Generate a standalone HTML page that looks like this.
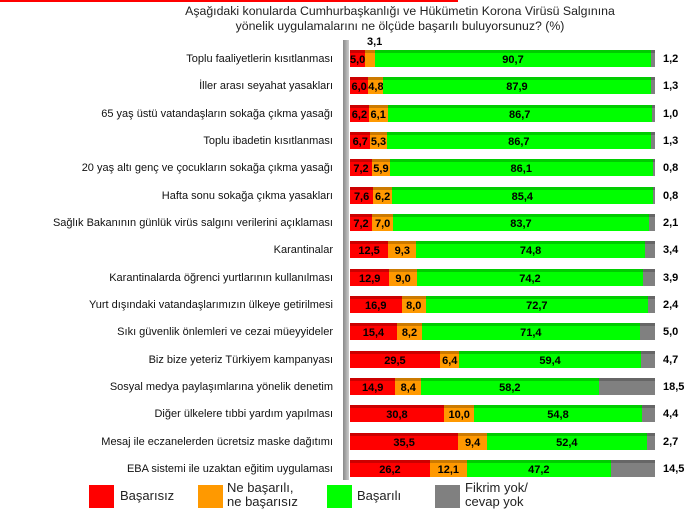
<!DOCTYPE html>
<html><head><meta charset="utf-8"><style>
body{margin:0;width:697px;height:514px;background:#fff;font-family:"Liberation Sans",sans-serif;position:relative;overflow:hidden}
.t{position:absolute;left:100px;width:600px;text-align:center;font-size:12.3px;color:#222;line-height:15px;white-space:nowrap}
.lab{position:absolute;right:364px;font-size:11px;color:#111;white-space:nowrap}
.bar{position:absolute;left:350px;height:14px}
.seg{position:absolute;top:0;height:14px;font-size:11px;font-weight:bold;text-align:center;line-height:14px;color:#000;overflow:visible;white-space:nowrap}
.seg::before{content:"";position:absolute;left:0;right:0;top:-3px;height:3px;filter:brightness(0.8);background:inherit}
.r{background:#f00}.o{background:#f90}.g{background:#0f0}.y{background:#808080}
.v{position:absolute;font-size:11px;font-weight:bold;color:#000}
.axis{position:absolute;left:343px;top:40px;width:6px;height:440px;background:linear-gradient(90deg,#888,#ccc)}
.lg{position:absolute;top:485px;width:25px;height:23px}
.lt{position:absolute;font-size:13px;color:#222;line-height:14px;white-space:nowrap}
</style></head><body>
<div style="position:absolute;left:0;top:0;width:458px;height:2px;background:#f00"></div>
<div class="t" style="top:4px">Aşağıdaki konularda Cumhurbaşkanlığı ve Hükümetin Korona Virüsü Salgınına</div>
<div class="t" style="top:19px">yönelik uygulamalarını ne ölçüde başarılı buluyorsunuz? (%)</div>
<div class="axis"></div>
<div class="v" style="left:367px;top:36px">3,1</div>
<div id="c"></div>
<div class="lg r" style="left:89px"></div><div class="lt" style="left:120px;top:489px">Başarısız</div>
<div class="lg o" style="left:198px"></div><div class="lt" style="left:227px;top:481px">Ne başarılı,<br>ne başarısız</div>
<div class="lg g" style="left:327px"></div><div class="lt" style="left:357px;top:489px">Başarılı</div>
<div class="lg y" style="left:435px"></div><div class="lt" style="left:465px;top:481px">Fikrim yok/<br>cevap yok</div>
<script>
var d=[["Toplu faaliyetlerin kısıtlanması",5.0,3.1,90.7,1.2],
["İller arası seyahat yasakları",6.0,4.8,87.9,1.3],
["65 yaş üstü vatandaşların sokağa çıkma yasağı",6.2,6.1,86.7,1.0],
["Toplu ibadetin kısıtlanması",6.7,5.3,86.7,1.3],
["20 yaş altı genç ve çocukların sokağa çıkma yasağı",7.2,5.9,86.1,0.8],
["Hafta sonu sokağa çıkma yasakları",7.6,6.2,85.4,0.8],
["Sağlık Bakanının günlük virüs salgını verilerini açıklaması",7.2,7.0,83.7,2.1],
["Karantinalar",12.5,9.3,74.8,3.4],
["Karantinalarda öğrenci yurtlarının kullanılması",12.9,9.0,74.2,3.9],
["Yurt dışındaki vatandaşlarımızın ülkeye getirilmesi",16.9,8.0,72.7,2.4],
["Sıkı güvenlik önlemleri ve cezai müeyyideler",15.4,8.2,71.4,5.0],
["Biz bize yeteriz Türkiyem kampanyası",29.5,6.4,59.4,4.7],
["Sosyal medya paylaşımlarına yönelik denetim",14.9,8.4,58.2,18.5],
["Diğer ülkelere tıbbi yardım yapılması",30.8,10.0,54.8,4.4],
["Mesaj ile eczanelerden ücretsiz maske dağıtımı",35.5,9.4,52.4,2.7],
["EBA sistemi ile uzaktan eğitim uygulaması",26.2,12.1,47.2,14.5]];
var h="",S=3.05,f=function(x){return x.toFixed(1).replace(".",",")};
d.forEach(function(r,i){var y=Math.round(53+i*27.33);
h+='<div class="lab" style="top:'+(y)+'px">'+r[0]+'</div><div class="bar" style="top:'+y+'px">';
var x=0,c=["r","o","g","y"];
for(var k=0;k<4;k++){var w=r[k+1]*S;
var txt=(k<3&&!(i==0&&k==1))?f(r[k+1]):"";
h+='<div class="seg '+c[k]+'" style="left:'+x+'px;width:'+w+'px">'+txt+'</div>';x+=w;}
h+='</div><div class="v" style="left:663px;top:'+(y)+'px">'+f(r[4])+'</div>';});
document.getElementById("c").innerHTML=h;
</script>
</body></html>
